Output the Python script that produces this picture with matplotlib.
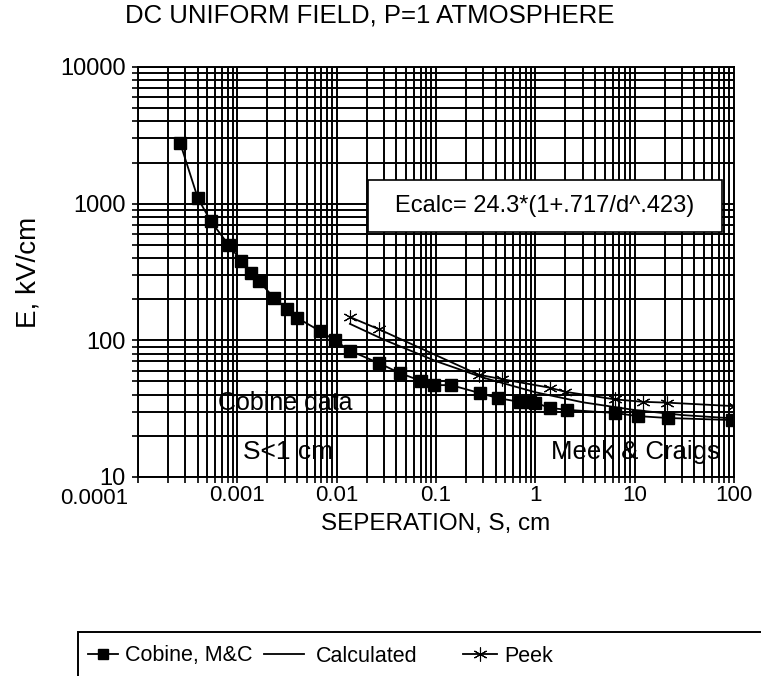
import matplotlib
matplotlib.use("Agg")
import matplotlib.pyplot as plt
from matplotlib.patches import Rectangle
from matplotlib.transforms import ScaledTranslation
from matplotlib.ticker import FixedLocator, FixedFormatter, LogLocator, NullFormatter

plt.rcParams['font.family'] = ['Liberation Sans', 'DejaVu Sans']

# Cobine, M&C data (separation in cm, field in kV/cm)
cobine_s = [0.000265, 0.0004, 0.00054, 0.00082, 0.0011, 0.00137, 0.00166, 0.00234,
            0.0032, 0.004, 0.0068, 0.0096, 0.0136, 0.0267, 0.043, 0.071, 0.096,
            0.142, 0.28, 0.42, 0.7, 0.88, 1.0, 1.4, 2.1, 6.3, 10.7, 21.9, 95]
cobine_e = [2800, 1100, 745, 498, 380, 311, 271, 204,
            169, 146, 117, 100, 84, 68, 57.7, 50.4, 47,
            47, 41, 37.8, 35.4, 35.2, 35, 32, 31, 29.4, 27.9, 27, 26.1]

# calculated curve, Ecalc = 24.3*(1+.717/d^.423)
calc_s = [0.0136, 0.03, 0.1, 0.3, 1, 3, 10, 30, 100]
calc_e = [132, 101, 70.4, 53.3, 41.7, 35.2, 30.9, 28.4, 26.8]

# Peek
peek_s = [0.0136, 0.027, 0.27, 0.46, 1.4, 2.0, 6.3, 12, 21, 100]
peek_e = [148, 120, 56, 52, 45, 42, 37, 35.5, 35, 33]

x_ticks = [0.0001, 0.001, 0.01, 0.1, 1, 10, 100]
x_labels = ["0.0001", "0.001", "0.01", "0.1", "1", "10", "100"]
y_ticks = [10, 100, 1000, 10000]
y_labels = ["10", "100", "1000", "10000"]

fig = plt.figure(figsize=(7.61, 6.76), dpi=100)
ax = fig.add_axes([0.1813, 0.2944, 0.7832, 0.6065])

ax.set_xscale('log')
ax.set_yscale('log')
ax.set_xlim(1e-4, 100)
ax.set_ylim(10, 10000)

ax.plot(cobine_s, cobine_e, color='black', lw=1.3, marker='s', ms=8, zorder=4)
ax.plot(calc_s, calc_e, color='black', lw=1.3, zorder=4)
ax.plot(peek_s, peek_e, color='black', lw=1.3, marker=(6, 2, 0), ms=10,
        mew=0.8, zorder=4)

ax.xaxis.set_major_locator(FixedLocator(x_ticks))
ax.xaxis.set_major_formatter(FixedFormatter(x_labels))
ax.yaxis.set_major_locator(FixedLocator(y_ticks))
ax.yaxis.set_major_formatter(FixedFormatter(y_labels))
ax.xaxis.set_minor_locator(LogLocator(base=10, subs=range(2, 10), numticks=20))
ax.yaxis.set_minor_locator(LogLocator(base=10, subs=range(2, 10), numticks=20))
ax.xaxis.set_minor_formatter(NullFormatter())
ax.yaxis.set_minor_formatter(NullFormatter())

ax.grid(True, which='both', color='black', lw=1.4)
ax.tick_params(which='both', direction='out', length=4, width=1.2)
ax.tick_params(axis='y', labelsize=17, pad=5)
ax.tick_params(axis='x', labelsize=16, pad=2)
for sp in ax.spines.values():
    sp.set_linewidth(1.4)
# first x label sits left of (and a touch below) its tick in the scan
first = ax.xaxis.get_major_ticks()[0].label1
first.set_horizontalalignment('right')
first.set_transform(first.get_transform()
                    + ScaledTranslation(-0.1, -0.03, fig.dpi_scale_trans))

fig.text(370 / 761, 1 - 16 / 676, "DC UNIFORM FIELD, P=1 ATMOSPHERE",
         fontsize=18.5, ha='center', va='center')
ax.set_xlabel("SEPERATION, S, cm", fontsize=17.5, labelpad=3)
ax.set_ylabel("E, kV/cm", fontsize=20, labelpad=13)

# annotations
ax.text(0.134, 0.18, "Cobine data", transform=ax.transAxes, fontsize=18,
        va='center', ha='left', zorder=5)
ax.text(0.177, 0.061, "S<1 cm", transform=ax.transAxes, fontsize=19,
        va='center', ha='left', zorder=5)
ax.text(0.977, 0.061, "Meek & Craigs", transform=ax.transAxes, fontsize=18.5,
        va='center', ha='right', zorder=5)

ax.add_patch(Rectangle((0.386, 0.598), 0.594, 0.126, transform=ax.transAxes,
                       facecolor='white', edgecolor='black', lw=1.2, zorder=6))
ax.text(0.683, 0.661, "Ecalc= 24.3*(1+.717/d^.423)", transform=ax.transAxes,
        fontsize=17, va='center', ha='center', zorder=7)

# legend box, running off the page edge like the scan
fig.add_artist(Rectangle((78 / 761, -0.05), 0.95, 1 - 632 / 676 + 0.05,
                         transform=fig.transFigure, facecolor='none',
                         edgecolor='black', lw=1.4))
h1, = ax.plot([], [], color='black', lw=1.3, marker='s', ms=7)
h2, = ax.plot([], [], color='black', lw=1.3)
h3, = ax.plot([], [], color='black', lw=1.3, marker=(6, 2, 0), ms=10, mew=0.8)
leg_fs = 15.5
fs_px = leg_fs * 100 / 72
entries = [(h1, "Cobine, M&C", 88, 30, 7),
           (h2, "Calculated", 264, 40, 12),
           (h3, "Peek", 463, 34, 7)]
for h, lab, x0, hl, gap in entries:
    fig.legend([h], [lab], loc='center left',
               bbox_to_anchor=(x0 / 761, 1 - 656 / 676), frameon=False,
               fontsize=leg_fs, borderpad=0, borderaxespad=0,
               handlelength=hl / fs_px, handletextpad=gap / fs_px)

fig.savefig("out.png", dpi=100)
